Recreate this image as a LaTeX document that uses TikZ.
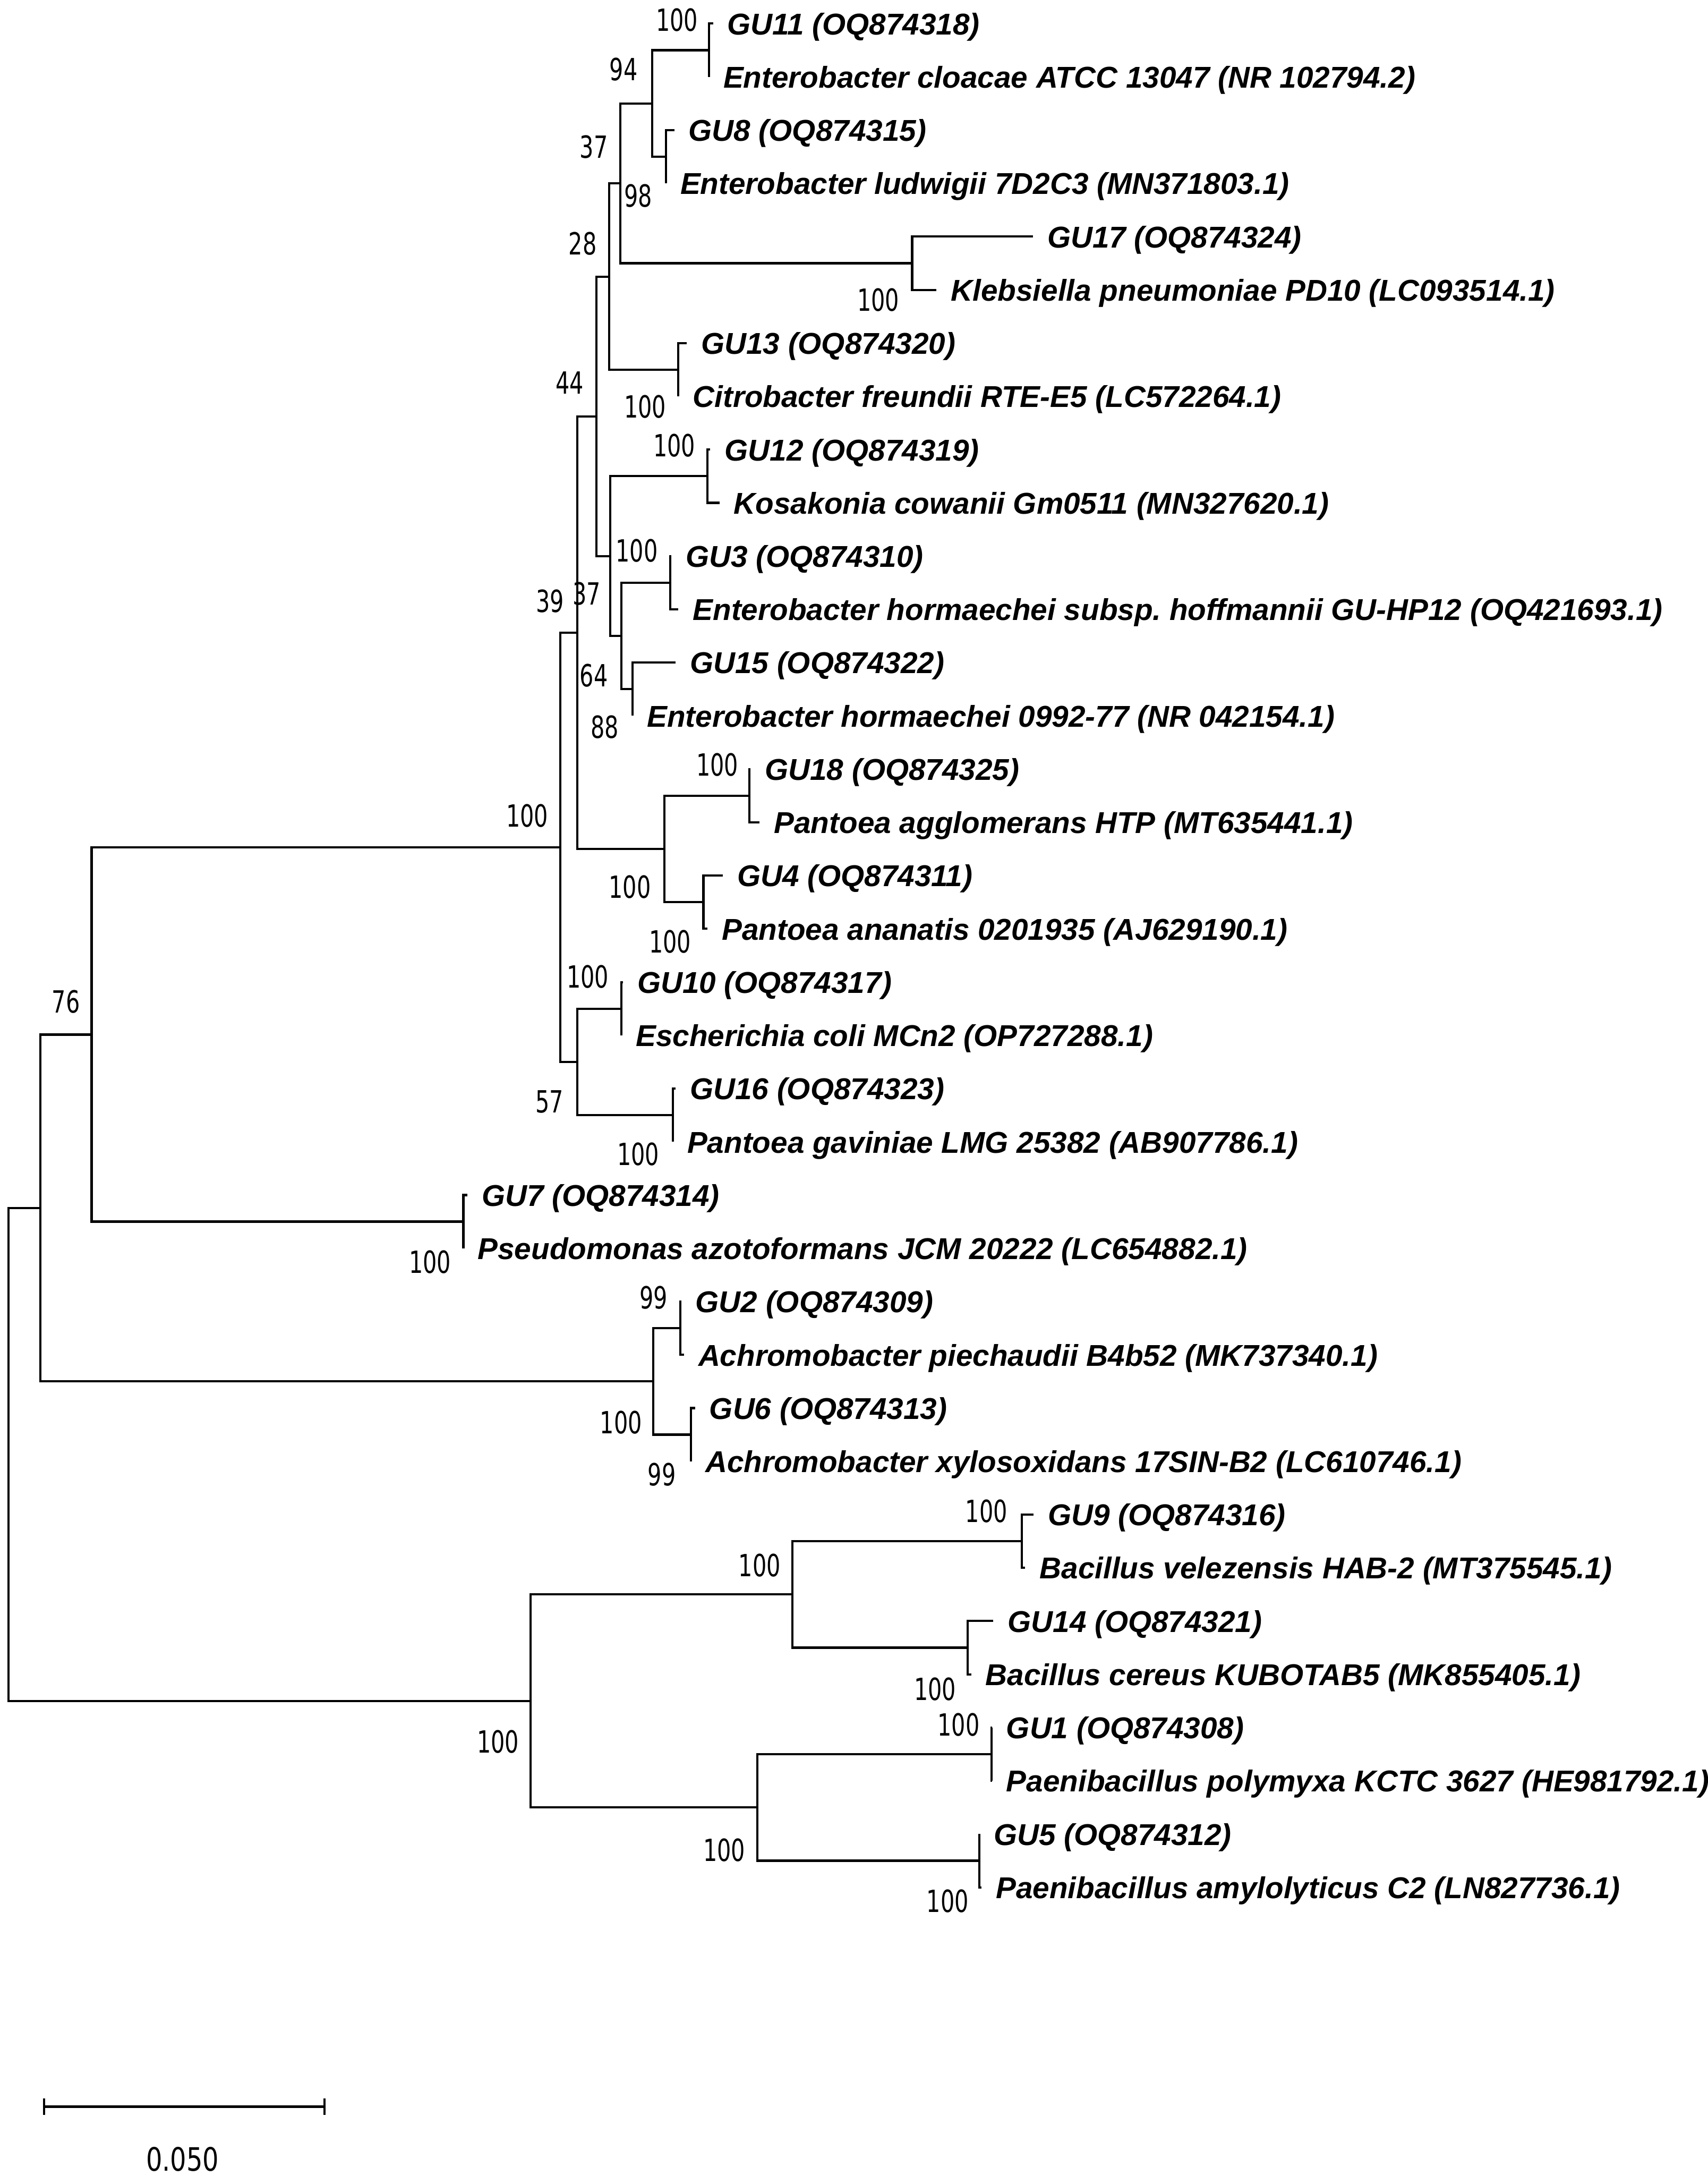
\documentclass[tikz,border=0pt]{standalone}
\usepackage{fontspec}
\setmainfont{Liberation Sans}
\newfontfamily\lblfont{Liberation Sans}
\newfontfamily\numfont{DejaVu Sans}[FakeStretch=0.72]
\newfontfamily\sclfont{DejaVu Sans}[FakeStretch=0.79]
\frenchspacing
\begin{document}
\begin{tikzpicture}[x=0.5pt,y=-0.5pt,
  br/.style={line width=0.8pt, line join=miter},
  lbl/.style={font=\lblfont\fontsize{10.85}{13}\selectfont\bfseries\itshape, anchor=base west, inner sep=0pt, xshift=5pt, yshift=-4pt},
  bs/.style={font=\numfont\fontsize{11}{13}\selectfont, inner sep=0pt, anchor=center},
  scl/.style={font=\sclfont\fontsize{11.6}{13}\selectfont, inner sep=0pt, anchor=center}]
\fill[white] (0,0) rectangle (1231,1568);
\path[use as bounding box] (0,0) rectangle (1231,1568);

% leaf tips
\coordinate (t1) at (514,17.0);
\coordinate (t2) at (511,55.4);
\coordinate (t3) at (486,93.7);
\coordinate (t4) at (480,132.1);
\coordinate (t5) at (744.5,170.5);
\coordinate (t6) at (675,208.9);
\coordinate (t7) at (495,247.2);
\coordinate (t8) at (489,285.6);
\coordinate (t9) at (512,324.0);
\coordinate (t10) at (518.6,362.3);
\coordinate (t11) at (484,400.7);
\coordinate (t12) at (489,439.1);
\coordinate (t13) at (487,477.4);
\coordinate (t14) at (456,515.8);
\coordinate (t15) at (541,554.2);
\coordinate (t16) at (547.6,592.6);
\coordinate (t17) at (521,630.9);
\coordinate (t18) at (510,669.3);
\coordinate (t19) at (449,707.7);
\coordinate (t20) at (448,746.0);
\coordinate (t21) at (487,784.4);
\coordinate (t22) at (485,822.8);
\coordinate (t23) at (337,861.1);
\coordinate (t24) at (334,899.5);
\coordinate (t25) at (491,937.9);
\coordinate (t26) at (493,976.3);
\coordinate (t27) at (501,1014.6);
\coordinate (t28) at (498,1053.0);
\coordinate (t29) at (745,1091.4);
\coordinate (t30) at (739,1129.7);
\coordinate (t31) at (716,1168.1);
\coordinate (t32) at (700,1206.5);
\coordinate (t33) at (715,1244.8);
\coordinate (t34) at (715,1283.2);
\coordinate (t35) at (706,1321.6);
\coordinate (t36) at (707.5,1360.0);

% internal nodes
\coordinate (n1) at (511,36.2);
\coordinate (n2) at (480,112.9);
\coordinate (n94) at (470,74.6);
\coordinate (n3) at (657.5,189.7);
\coordinate (n37a) at (447,132.1);
\coordinate (n4) at (489,266.4);
\coordinate (n28) at (439,199.3);
\coordinate (n5) at (510,343.1);
\coordinate (n6) at (483,419.9);
\coordinate (n88) at (456,496.6);
\coordinate (n64) at (448,458.2);
\coordinate (n37b) at (440,400.7);
\coordinate (n44) at (430,300.0);
\coordinate (n7) at (540,573.4);
\coordinate (n8) at (507,650.1);
\coordinate (nP) at (479,611.8);
\coordinate (n39) at (416,455.9);
\coordinate (n9) at (448,726.8);
\coordinate (n10) at (485,803.6);
\coordinate (n57) at (416,765.2);
\coordinate (nC) at (404,610.6);
\coordinate (n11) at (334,880.3);
\coordinate (n76) at (66,745.5);
\coordinate (n12) at (490.5,957.1);
\coordinate (n13) at (498,1033.8);
\coordinate (nAc) at (471,995.4);
\coordinate (nA) at (29,870.5);
\coordinate (n14) at (736.5,1110.5);
\coordinate (n15) at (697.5,1187.3);
\coordinate (nB) at (571,1148.9);
\coordinate (n16) at (714.6,1264.0);
\coordinate (n17) at (706,1340.8);
\coordinate (nPa) at (546,1302.4);
\coordinate (nBB) at (382.5,1225.6);
\coordinate (root) at (6,1048);

% branches
\draw[br] (t1) -| (n1) |- (t2);
\draw[br] (t3) -| (n2) |- (t4);
\draw[br] (n1) -| (n94) |- (n2);
\draw[br] (t5) -| (n3) |- (t6);
\draw[br] (n94) -| (n37a) |- (n3);
\draw[br] (t7) -| (n4) |- (t8);
\draw[br] (n37a) -| (n28) |- (n4);
\draw[br] (t9) -| (n5) |- (t10);
\draw[br] (t11) -| (n6) |- (t12);
\draw[br] (t13) -| (n88) |- (t14);
\draw[br] (n6) -| (n64) |- (n88);
\draw[br] (n5) -| (n37b) |- (n64);
\draw[br] (n28) -| (n44) |- (n37b);
\draw[br] (t15) -| (n7) |- (t16);
\draw[br] (t17) -| (n8) |- (t18);
\draw[br] (n7) -| (nP) |- (n8);
\draw[br] (n44) -| (n39) |- (nP);
\draw[br] (t19) -| (n9) |- (t20);
\draw[br] (t21) -| (n10) |- (t22);
\draw[br] (n9) -| (n57) |- (n10);
\draw[br] (n39) -| (nC) |- (n57);
\draw[br] (t23) -| (n11) |- (t24);
\draw[br] (nC) -| (n76) |- (n11);
\draw[br] (t25) -| (n12) |- (t26);
\draw[br] (t27) -| (n13) |- (t28);
\draw[br] (n12) -| (nAc) |- (n13);
\draw[br] (n76) -| (nA) |- (nAc);
\draw[br] (t29) -| (n14) |- (t30);
\draw[br] (t31) -| (n15) |- (t32);
\draw[br] (n14) -| (nB) |- (n15);
\draw[br] (t33) -| (n16) |- (t34);
\draw[br] (t35) -| (n17) |- (t36);
\draw[br] (n16) -| (nPa) |- (n17);
\draw[br] (nB) -| (nBB) |- (nPa);
\draw[br] (nA) -| (root) |- (nBB);

% leaf labels
\node[lbl] (L1) at (t1) {GU11 (OQ874318)};
\node[lbl] (L2) at (t2) {Enterobacter cloacae ATCC 13047 (NR 102794.2)};
\node[lbl] (L3) at (t3) {GU8 (OQ874315)};
\node[lbl] (L4) at (t4) {Enterobacter ludwigii 7D2C3 (MN371803.1)};
\node[lbl] (L5) at (t5) {GU17 (OQ874324)};
\node[lbl] (L6) at (t6) {Klebsiella pneumoniae PD10 (LC093514.1)};
\node[lbl] (L7) at (t7) {GU13 (OQ874320)};
\node[lbl] (L8) at (t8) {Citrobacter freundii RTE-E5 (LC572264.1)};
\node[lbl] (L9) at (t9) {GU12 (OQ874319)};
\node[lbl] (L10) at (t10) {Kosakonia cowanii Gm0511 (MN327620.1)};
\node[lbl] (L11) at (t11) {GU3 (OQ874310)};
\node[lbl] (L12) at (t12) {Enterobacter hormaechei subsp. hoffmannii GU-HP12 (OQ421693.1)};
\node[lbl] (L13) at (t13) {GU15 (OQ874322)};
\node[lbl] (L14) at (t14) {Enterobacter hormaechei 0992-77 (NR 042154.1)};
\node[lbl] (L15) at (t15) {GU18 (OQ874325)};
\node[lbl] (L16) at (t16) {Pantoea agglomerans HTP (MT635441.1)};
\node[lbl] (L17) at (t17) {GU4 (OQ874311)};
\node[lbl] (L18) at (t18) {Pantoea ananatis 0201935 (AJ629190.1)};
\node[lbl] (L19) at (t19) {GU10 (OQ874317)};
\node[lbl] (L20) at (t20) {Escherichia coli MCn2 (OP727288.1)};
\node[lbl] (L21) at (t21) {GU16 (OQ874323)};
\node[lbl] (L22) at (t22) {Pantoea gaviniae LMG 25382 (AB907786.1)};
\node[lbl] (L23) at (t23) {GU7 (OQ874314)};
\node[lbl] (L24) at (t24) {Pseudomonas azotoformans JCM 20222 (LC654882.1)};
\node[lbl] (L25) at (t25) {GU2 (OQ874309)};
\node[lbl] (L26) at (t26) {Achromobacter piechaudii B4b52 (MK737340.1)};
\node[lbl] (L27) at (t27) {GU6 (OQ874313)};
\node[lbl] (L28) at (t28) {Achromobacter xylosoxidans 17SIN-B2 (LC610746.1)};
\node[lbl] (L29) at (t29) {GU9 (OQ874316)};
\node[lbl] (L30) at (t30) {Bacillus velezensis HAB-2 (MT375545.1)};
\node[lbl] (L31) at (t31) {GU14 (OQ874321)};
\node[lbl] (L32) at (t32) {Bacillus cereus KUBOTAB5 (MK855405.1)};
\node[lbl] (L33) at (t33) {GU1 (OQ874308)};
\node[lbl] (L34) at (t34) {Paenibacillus polymyxa KCTC 3627 (HE981792.1)};
\node[lbl] (L35) at (t35) {GU5 (OQ874312)};
\node[lbl] (L36) at (t36) {Paenibacillus amylolyticus C2 (LN827736.1)};

% bootstrap values
\node[bs] (b1) at (488,14.5) {100};
\node[bs] (b94) at (449.5,50) {94};
\node[bs] (b37a) at (428,106) {37};
\node[bs] (b2) at (460,141) {98};
\node[bs] (b28) at (420,175.5) {28};
\node[bs] (b3) at (633,216) {100};
\node[bs] (b44) at (410.5,276) {44};
\node[bs] (b4) at (465,293) {100};
\node[bs] (b5) at (486,321) {100};
\node[bs] (b6) at (459,397) {100};
\node[bs] (b39) at (396.5,433) {39};
\node[bs] (b37b) at (423,428) {37};
\node[bs] (b64) at (428,486.6) {64};
\node[bs] (b88) at (436,524) {88};
\node[bs] (b7) at (517,551) {100};
\node[bs] (bC) at (380,588) {100};
\node[bs] (bP) at (454,639) {100};
\node[bs] (b8) at (483,678.5) {100};
\node[bs] (b9) at (423.6,704) {100};
\node[bs] (b57) at (396,794) {57};
\node[bs] (b10) at (460,831.6) {100};
\node[bs] (b76) at (47.5,722) {76};
\node[bs] (b11) at (310,909.5) {100};
\node[bs] (b12) at (471,935) {99};
\node[bs] (bAc) at (447.6,1025) {100};
\node[bs] (b13) at (477,1062.5) {99};
\node[bs] (b14) at (711,1089) {100};
\node[bs] (bB) at (547.5,1128) {100};
\node[bs] (b15) at (674,1217) {100};
\node[bs] (bBB) at (359,1255) {100};
\node[bs] (b16) at (691,1243) {100};
\node[bs] (bPa) at (522,1333) {100};
\node[bs] (b17) at (683,1370) {100};

% scale bar
\coordinate (s1) at (31.7,1518);
\coordinate (s2) at (234,1518);
\draw[br] (s1) -- (s2);
\draw[br] ([yshift=3pt]s1) -- ([yshift=-3pt]s1);
\draw[br] ([yshift=3pt]s2) -- ([yshift=-3pt]s2);
\node[scl] (sl) at (131.6,1556) {0.050};
\end{tikzpicture}
\end{document}
